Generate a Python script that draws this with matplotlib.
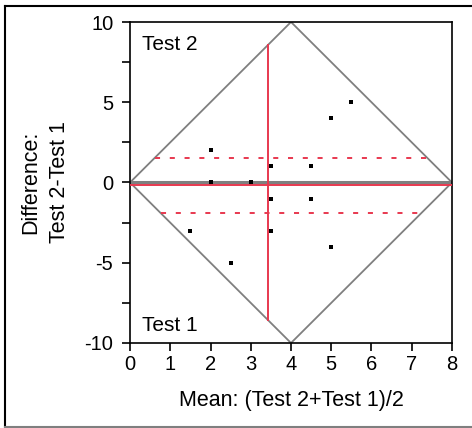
import matplotlib.pyplot as plt
from matplotlib.lines import Line2D
from matplotlib.ticker import MultipleLocator

plt.rcParams['font.family'] = ['Liberation Sans', 'DejaVu Sans']
plt.rcParams['axes.unicode_minus'] = False

# mean of the two tests vs. their difference
mean_vals = [2, 2, 3, 3.5, 4.5, 3.5, 4.5, 1.5, 3.5, 2.5, 5, 5, 5.5]
diff_vals = [2, 0, 0, 1, 1, -1, -1, -3, -3, -5, -4, 4, 5]

mean_diff = -0.15
upper_lim = 1.53
lower_lim = -1.91
mean_x = 3.43

diamond_x = [0, 4, 8, 4, 0]
diamond_y = [0, 10, 0, -10, 0]

red = '#e8384f'
grey = '#7f7f7f'
fs = 15

fig = plt.figure(figsize=(4.72, 4.28), dpi=100)
ax = fig.add_axes([130 / 472, 1 - 343 / 428, 322 / 472, 321 / 428])

# diamond showing the limits of the difference
ax.plot(diamond_x, diamond_y, color=grey, lw=1.3, zorder=2)
ax.plot([0, 8], [0, 0], color=grey, lw=2.2, zorder=2)


def half_width(y):
    # horizontal extent of the diamond at height y
    return abs(y) * 4 / 10


ax.plot([0, 8], [mean_diff, mean_diff], color=red, lw=1.4, zorder=3)
for lim in (upper_lim, lower_lim):
    hw = half_width(lim)
    ax.plot([hw, 8 - hw], [lim, lim], color=red, lw=1.4,
            dashes=(2.6, 5), zorder=3)

top = 10 * (1 - abs(mean_x - 4) / 4)
ax.plot([mean_x, mean_x], [-top, top], color=red, lw=1.4, zorder=3)

ax.scatter(mean_vals, diff_vals, marker='s', s=6, color='black',
           linewidths=0, zorder=4)

ax.text(0.3, 8.6, 'Test 2', fontsize=fs, va='center')
ax.text(0.3, -8.9, 'Test 1', fontsize=fs, va='center')

ax.set_xlim(0, 8)
ax.set_ylim(-10, 10)
ax.set_xticks(range(0, 9))
ax.set_yticks([-10, -5, 0, 5, 10])
ax.yaxis.set_minor_locator(MultipleLocator(2.5))
ax.tick_params(which='both', direction='out', length=6, width=1.2,
               labelsize=14.5)
ax.tick_params(axis='x', pad=3)
ax.tick_params(axis='y', pad=6)
for s in ax.spines.values():
    s.set_linewidth(1.2)

ax.set_xlabel('Mean: (Test 2+Test 1)/2', fontsize=15.5, labelpad=11)
ax.set_ylabel('Difference:\nTest 2-Test 1', fontsize=15.5, linespacing=1.5)
ax.yaxis.set_label_coords(-0.185, 0.5)

# frame around the figure
fig.add_artist(Line2D([5 / 472, 5 / 472], [1 - 6 / 428, 0.002],
                      color='black', lw=1.5))
fig.add_artist(Line2D([5 / 472, 1], [1 - 6 / 428, 1 - 6 / 428],
                      color='black', lw=1.5))
fig.add_artist(Line2D([5 / 472, 1], [0.003, 0.003], color=grey, lw=1.5))

fig.savefig('out.png', dpi=100)
